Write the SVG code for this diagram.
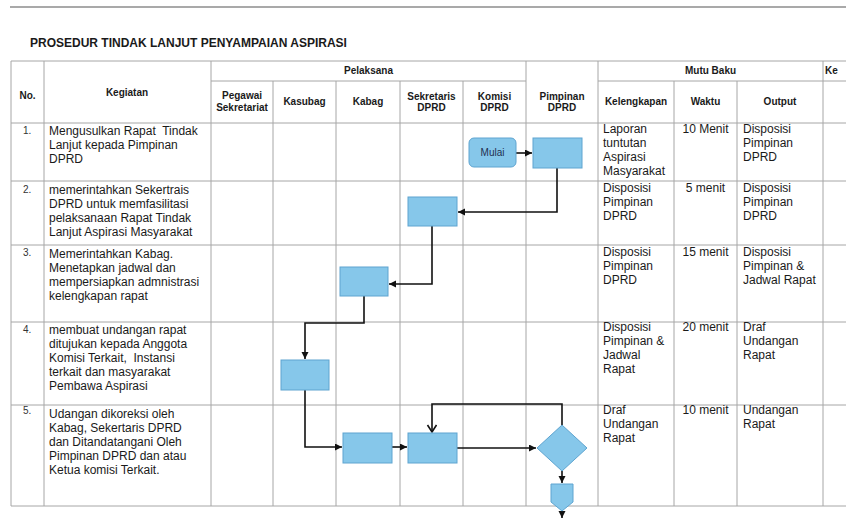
<svg xmlns="http://www.w3.org/2000/svg" width="846" height="523" viewBox="0 0 846 523">
<style>
.grid{stroke:#a6a6a6;stroke-width:1;fill:none}
.rule{stroke:#8c8c8c;stroke-width:1.5;fill:none}
.title{font-family:"Liberation Sans",Arial,sans-serif;font-weight:bold;font-size:12px;fill:#1a1a1a}
.hdr{font-family:"Liberation Sans",Arial,sans-serif;font-weight:bold;font-size:10px;fill:#1a1a1a;text-anchor:middle}
.txt{font-family:"Liberation Sans",Arial,sans-serif;font-size:12px;fill:#1a1a1a;white-space:pre}
.mid{text-anchor:middle}
.num{font-family:"Liberation Sans",Arial,sans-serif;font-size:10px;fill:#333}
.box{fill:#86c7ea;stroke:#5ea4d0;stroke-width:1}
.conn{stroke:#111;stroke-width:1.6;fill:none}
.lbl{font-family:"Liberation Sans",Arial,sans-serif;font-size:10px;fill:#1f3050;text-anchor:middle}
</style>
<defs>
<marker id="ah" markerUnits="userSpaceOnUse" markerWidth="8" markerHeight="8" refX="7" refY="3.5" orient="auto">
<path d="M0,0 L7,3.5 L0,7 z" fill="#111"/>
</marker>
<marker id="ao" markerUnits="userSpaceOnUse" markerWidth="12" markerHeight="12" refX="8" refY="5" orient="auto">
<path d="M1,0.5 L8,5 L1,9.5" fill="none" stroke="#111" stroke-width="1.6"/>
</marker>
</defs>
<rect width="846" height="523" fill="#ffffff"/>
<line class="rule" x1="10" y1="7" x2="846" y2="7"/>
<text class="title" x="30" y="47">PROSEDUR TINDAK LANJUT PENYAMPAIAN ASPIRASI</text>

<g id="table">
<path class="grid" d="M11,61 H846 M211,81 H526 M598,81 H846 M11,123 H846 M11,181 H846 M11,245 H846 M11,322 H846 M11,405 H846 M11,506 H846"/>
<path class="grid" d="M11,61 V506 M44,61 V506 M211,61 V506 M273,81 V506 M336,81 V506 M400,81 V506 M463,81 V506 M526,61 V506 M598,61 V506 M674,81 V506 M737,81 V506 M823,61 V506"/>
<text class="hdr" x="27.5" y="98.5">No.</text>
<text class="hdr" x="127" y="96">Kegiatan</text>
<text class="hdr" x="368.5" y="74">Pelaksana</text>
<text class="hdr" x="710.5" y="74">Mutu Baku</text>
<text class="hdr" x="825" y="74" style="text-anchor:start">Ke</text>
<text class="hdr" x="242" y="99">Pegawai</text>
<text class="hdr" x="242" y="110.5">Sekretariat</text>
<text class="hdr" x="304.5" y="104.5">Kasubag</text>
<text class="hdr" x="368" y="104.5">Kabag</text>
<text class="hdr" x="431.5" y="99.5">Sekretaris</text>
<text class="hdr" x="431.5" y="110.5">DPRD</text>
<text class="hdr" x="494.5" y="99.5">Komisi</text>
<text class="hdr" x="494.5" y="110.5">DPRD</text>
<text class="hdr" x="562" y="99.5">Pimpinan</text>
<text class="hdr" x="562" y="110.5">DPRD</text>
<text class="hdr" x="636" y="105">Kelengkapan</text>
<text class="hdr" x="705.5" y="105">Waktu</text>
<text class="hdr" x="780" y="105">Output</text>
</g>

<g id="row1">
<text class="num" x="23" y="134">1.</text>
<text class="txt" x="49" y="135">Mengusulkan Rapat  Tindak</text>
<text class="txt" x="49" y="149">Lanjut kepada Pimpinan</text>
<text class="txt" x="49" y="163">DPRD</text>
<text class="txt" x="603" y="133">Laporan</text>
<text class="txt" x="603" y="147">tuntutan</text>
<text class="txt" x="603" y="161">Aspirasi</text>
<text class="txt" x="603" y="175">Masyarakat</text>
<text class="txt mid" x="705.5" y="133">10 Menit</text>
<text class="txt" x="743" y="133">Disposisi</text>
<text class="txt" x="743" y="147">Pimpinan</text>
<text class="txt" x="743" y="161">DPRD</text>
</g>
<g id="row2">
<text class="num" x="23" y="193">2.</text>
<text class="txt" x="49" y="193.5">memerintahkan Sekertrais</text>
<text class="txt" x="49" y="207.5">DPRD untuk memfasilitasi</text>
<text class="txt" x="49" y="221.5">pelaksanaan Rapat Tindak</text>
<text class="txt" x="49" y="235.5">Lanjut Aspirasi Masyarakat</text>
<text class="txt" x="603" y="191.5">Disposisi</text>
<text class="txt" x="603" y="205.5">Pimpinan</text>
<text class="txt" x="603" y="219.5">DPRD</text>
<text class="txt mid" x="705.5" y="191.5">5 menit</text>
<text class="txt" x="743" y="191.5">Disposisi</text>
<text class="txt" x="743" y="205.5">Pimpinan</text>
<text class="txt" x="743" y="219.5">DPRD</text>
</g>
<g id="row3">
<text class="num" x="23" y="256">3.</text>
<text class="txt" x="49" y="257.5">Memerintahkan Kabag.</text>
<text class="txt" x="49" y="271.5">Menetapkan jadwal dan</text>
<text class="txt" x="49" y="285.5">mempersiapkan admnistrasi</text>
<text class="txt" x="49" y="299.5">kelengkapan rapat</text>
<text class="txt" x="603" y="256">Disposisi</text>
<text class="txt" x="603" y="270">Pimpinan</text>
<text class="txt" x="603" y="284">DPRD</text>
<text class="txt mid" x="705.5" y="256">15 menit</text>
<text class="txt" x="743" y="256">Disposisi</text>
<text class="txt" x="743" y="270">Pimpinan &amp;</text>
<text class="txt" x="743" y="284">Jadwal Rapat</text>
</g>
<g id="row4">
<text class="num" x="23" y="333">4.</text>
<text class="txt" x="49" y="334">membuat undangan rapat</text>
<text class="txt" x="49" y="348">ditujukan kepada Anggota</text>
<text class="txt" x="49" y="362">Komisi Terkait,  Instansi</text>
<text class="txt" x="49" y="376">terkait dan masyarakat</text>
<text class="txt" x="49" y="390">Pembawa Aspirasi</text>
<text class="txt" x="603" y="331">Disposisi</text>
<text class="txt" x="603" y="345">Pimpinan &amp;</text>
<text class="txt" x="603" y="359">Jadwal</text>
<text class="txt" x="603" y="373">Rapat</text>
<text class="txt mid" x="705.5" y="331">20 menit</text>
<text class="txt" x="743" y="331">Draf</text>
<text class="txt" x="743" y="345">Undangan</text>
<text class="txt" x="743" y="359">Rapat</text>
</g>
<g id="row5">
<text class="num" x="23" y="414">5.</text>
<text class="txt" x="49" y="417.5">Udangan dikoreksi oleh</text>
<text class="txt" x="49" y="431.5">Kabag, Sekertaris DPRD</text>
<text class="txt" x="49" y="445.5">dan Ditandatangani Oleh</text>
<text class="txt" x="49" y="459.5">Pimpinan DPRD dan atau</text>
<text class="txt" x="49" y="473.5">Ketua komisi Terkait.</text>
<text class="txt" x="603" y="414">Draf</text>
<text class="txt" x="603" y="428">Undangan</text>
<text class="txt" x="603" y="442">Rapat</text>
<text class="txt mid" x="705.5" y="414">10 menit</text>
<text class="txt" x="743" y="414">Undangan</text>
<text class="txt" x="743" y="428">Rapat</text>
</g>

<g id="connectors">
<path class="conn" d="M516,153 H532" marker-end="url(#ah)"/>
<path class="conn" d="M557,168 V212 H458" marker-end="url(#ah)"/>
<path class="conn" d="M432,226 V284 H389" marker-end="url(#ah)"/>
<path class="conn" d="M364,296 V323 H305 V359" marker-end="url(#ah)"/>
<path class="conn" d="M305,390 V447 H342" marker-end="url(#ah)"/>
<path class="conn" d="M392,447 H407" marker-end="url(#ah)"/>
<path class="conn" d="M457,448 H536" marker-end="url(#ah)"/>
<path class="conn" d="M562,425 V404 H432 V432" marker-end="url(#ao)"/>
<path class="conn" d="M562,471 V483" marker-end="url(#ah)"/>
<path class="conn" d="M562,511 V518" marker-end="url(#ah)"/>
</g>

<g id="n-mulai"><rect class="box" x="469" y="138" width="47" height="29" rx="5"/><text class="lbl" x="492.5" y="155.5">Mulai</text></g>
<g id="n-pimpinan1"><rect class="box" x="533" y="138" width="49" height="30"/></g>
<g id="n-sekretaris2"><rect class="box" x="408" y="197" width="49" height="29"/></g>
<g id="n-kabag3"><rect class="box" x="340" y="267" width="48" height="29"/></g>
<g id="n-kasubag4"><rect class="box" x="281" y="360" width="48" height="30"/></g>
<g id="n-kabag5"><rect class="box" x="343" y="433" width="49" height="30"/></g>
<g id="n-sekretaris5"><rect class="box" x="408" y="433" width="49" height="30"/></g>
<g id="n-decision"><polygon class="box" points="562,425 587,448 562,471 537,448"/></g>
<g id="n-offpage"><polygon class="box" points="551,484 573,484 573,502 562,511 551,502"/></g>
</svg>
